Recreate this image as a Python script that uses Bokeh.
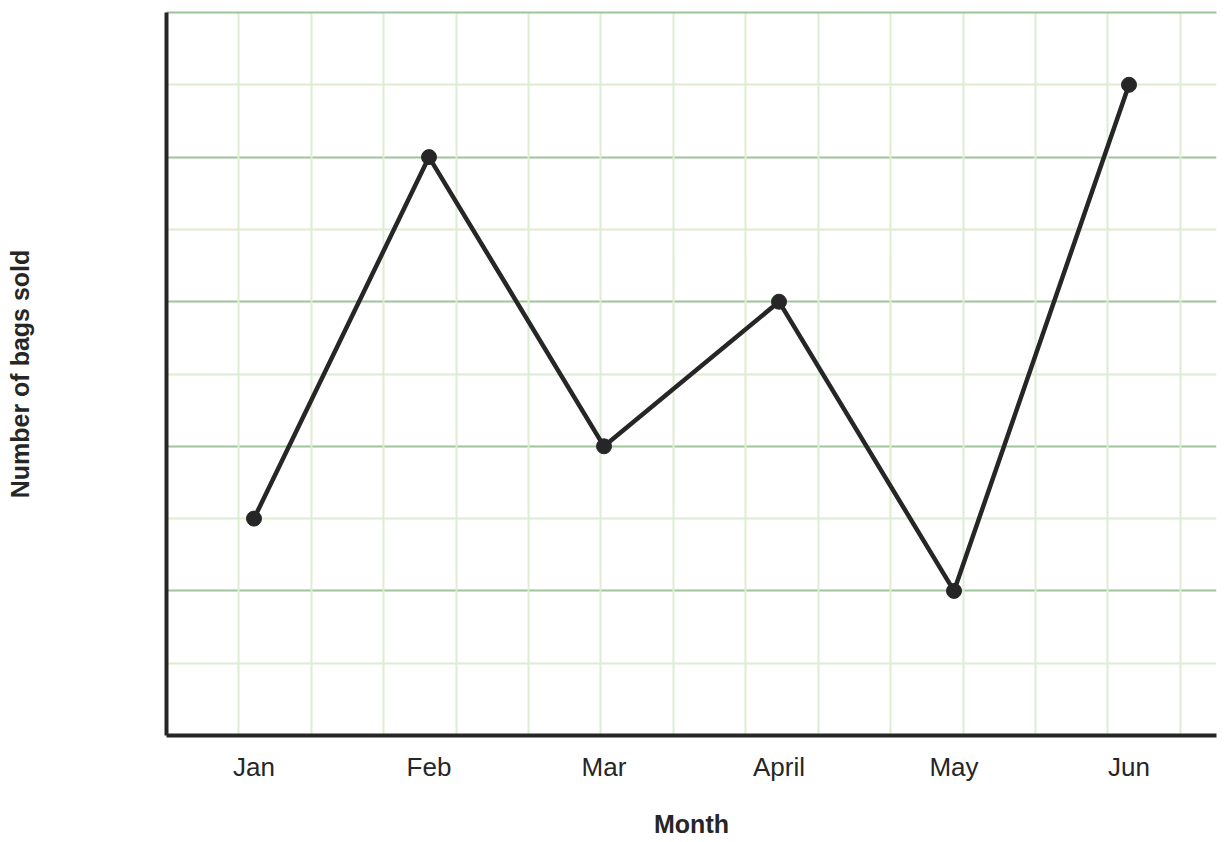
from bokeh.plotting import figure
from bokeh.models import Range1d, Grid, FixedTicker, ColumnDataSource, LinearAxis
from bokeh.embed import file_html
from bokeh.resources import INLINE

# ---- data ----
months = ["Jan", "Feb", "Mar", "April", "May", "Jun"]
bags_sold = [3, 8, 4, 6, 2, 9]
y_major_grid = [2, 4, 6, 8, 10]
y_minor_grid = [1, 3, 5, 7, 9]
x_grid_lines = list(range(1, 15))   # square graph-paper cells across the width
x_grid_span = 14.5                  # plot width measured in grid cells

DARK = "#262626"
GRID_DARK = "#9fc49b"
GRID_LIGHT = "#ddecd2"
FONT = "Liberation Sans"

n = len(months)
x_pos = [i + 0.5 for i in range(n)]  # band centres of the category axis
src = ColumnDataSource(data=dict(x=x_pos, bags=bags_sold))

p = figure(
    x_range=Range1d(0, n),
    y_range=Range1d(0, 10),
    width=1224, height=840,
    output_backend="svg", toolbar_location=None,
    min_border_left=166, min_border_right=8,
    min_border_top=12, min_border_bottom=104,
)
p.outline_line_color = None
p.background_fill_color = "white"
p.border_fill_color = "white"

# grids
p.xgrid.visible = False
p.ygrid.ticker = FixedTicker(ticks=y_major_grid, minor_ticks=y_minor_grid)
p.ygrid.grid_line_color = GRID_DARK
p.ygrid.grid_line_width = 2
p.ygrid.minor_grid_line_color = GRID_LIGHT
p.ygrid.minor_grid_line_width = 2

vgrid = Grid(dimension=0,
             ticker=FixedTicker(ticks=[k * n / x_grid_span for k in x_grid_lines]),
             grid_line_color=GRID_LIGHT, grid_line_width=2)
p.add_layout(vgrid)

# bottom axis
xa = p.below[0]
xa.ticker = FixedTicker(ticks=x_pos)
xa.major_label_overrides = {x: m for x, m in zip(x_pos, months)}
xa.axis_line_color = DARK
xa.axis_line_width = 4
xa.major_tick_line_color = None
xa.minor_tick_line_color = None
xa.major_label_text_font = FONT
xa.major_label_text_font_size = "26px"
xa.major_label_text_color = DARK
xa.major_label_standoff = 10
xa.axis_label = "Month"
xa.axis_label_text_font = FONT
xa.axis_label_text_font_size = "25px"
xa.axis_label_text_font_style = "bold"
xa.axis_label_text_color = DARK
xa.axis_label_standoff = 25

# left axis
ya = p.left[0]
ya.ticker = FixedTicker(ticks=[])
ya.axis_line_color = DARK
ya.axis_line_width = 4
ya.major_tick_line_color = None
ya.minor_tick_line_color = None
ya.major_label_text_font_size = "0px"
ya.axis_label = "Number of bags sold"
ya.axis_label_text_font = FONT
ya.axis_label_text_font_size = "25px"
ya.axis_label_text_font_style = "bold"
ya.axis_label_text_color = DARK
ya.axis_label_standoff = 133

# top edge line (top gridline of the paper)
top = LinearAxis(ticker=FixedTicker(ticks=[]), axis_line_color=GRID_DARK, axis_line_width=2,
                 major_tick_line_color=None, minor_tick_line_color=None,
                 major_label_text_font_size="0px", major_label_standoff=0)
p.add_layout(top, "above")

# data
p.line("x", "bags", source=src, line_color=DARK, line_width=4.5)
p.scatter("x", "bags", source=src, size=15, fill_color=DARK, line_color=DARK)

open("out.html", "w").write(file_html(p, INLINE))
